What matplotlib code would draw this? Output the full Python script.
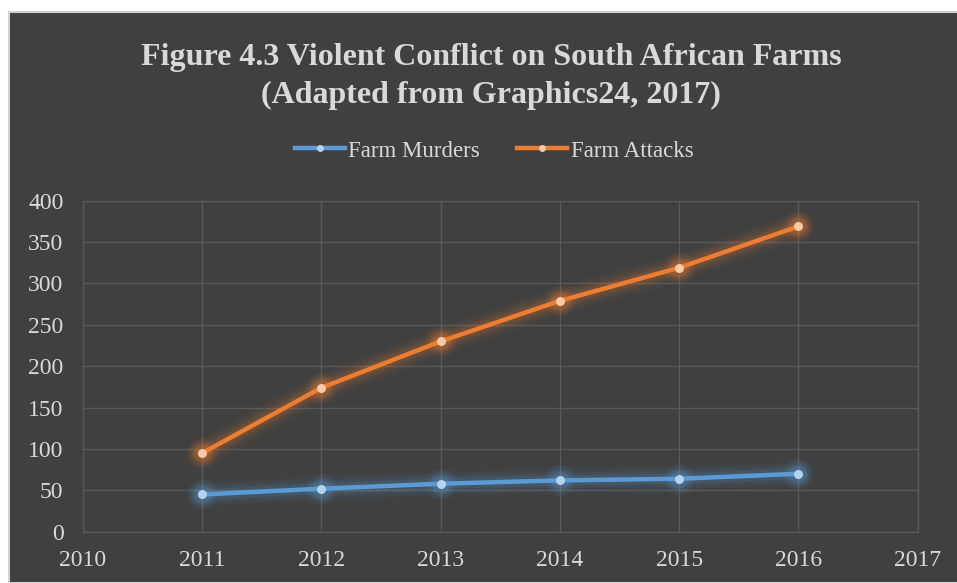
import matplotlib
matplotlib.use("Agg")
import matplotlib.pyplot as plt
from matplotlib.patches import Rectangle
from matplotlib.lines import Line2D

years = [2011, 2012, 2013, 2014, 2015, 2016]
farm_murders = [45, 52, 58, 62, 64, 70]
farm_attacks = [95, 174, 230, 279, 319, 369]
x_ticks = [2010, 2011, 2012, 2013, 2014, 2015, 2016, 2017]
y_ticks = [0, 50, 100, 150, 200, 250, 300, 350, 400]

BG = "#404040"
GRID = "#595959"
TEXT = "#d9d9d9"
BLUE = "#5b9bd5"
ORANGE = "#ed7d31"
BLUE_PT = "#b4d3f0"
ORANGE_PT = "#f9c9a8"
SERIF = ["Liberation Serif", "DejaVu Serif"]

W, H = 957, 583
fig = plt.figure(figsize=(W / 100, H / 100), dpi=100, facecolor="white")

# dark chart panel with a thin light frame
fig.patches.append(Rectangle((9 / W, 0), 1, 1 - 12 / H, transform=fig.transFigure,
                             facecolor=BG, edgecolor="#d0d0d0", linewidth=1.5,
                             zorder=-10))

ax = fig.add_axes([83 / W, 1 - 531.7 / H, (917.7 - 83) / W, (531.7 - 200.7) / H])
ax.set_facecolor(BG)
ax.set_xlim(2010, 2017)
ax.set_ylim(0, 400)
ax.set_xticks(x_ticks)
ax.set_yticks(y_ticks)
ax.grid(True, color=GRID, linewidth=1)
ax.set_axisbelow(True)
for s in ax.spines.values():
    s.set_color(GRID)
    s.set_linewidth(1)
ax.tick_params(length=0, colors=TEXT, labelsize=17)
ax.tick_params(axis="y", pad=14)
ax.tick_params(axis="x", pad=13)
for lab in ax.get_xticklabels() + ax.get_yticklabels():
    lab.set_family(SERIF)
    lab.set_color(TEXT)


def glow_line(xs, ys, color, pt_color):
    # soft halo drawn as stacked translucent strokes
    for lw, a in [(20, 0.035), (15, 0.05), (11, 0.08), (7.5, 0.12)]:
        ax.plot(xs, ys, color=color, linewidth=lw, alpha=a,
                solid_capstyle="round", solid_joinstyle="round", zorder=2)
    for ms, a in [(22, 0.08), (17, 0.12), (13, 0.18)]:
        ax.plot(xs, ys, linestyle="none", marker="o", markersize=ms,
                markerfacecolor=color, markeredgecolor="none", alpha=a, zorder=2)
    ax.plot(xs, ys, color=color, linewidth=3.2, zorder=3,
            solid_capstyle="round", solid_joinstyle="round")
    ax.plot(xs, ys, linestyle="none", marker="o", markersize=6.5,
            markerfacecolor=pt_color, markeredgecolor="none", zorder=4)


glow_line(years, farm_murders, BLUE, BLUE_PT)
glow_line(years, farm_attacks, ORANGE, ORANGE_PT)

fig.text(491 / W, 1 - 57 / H, "Figure 4.3 Violent Conflict on South African Farms",
         ha="center", va="center", fontsize=23, fontweight="bold",
         color=TEXT, family=SERIF)
fig.text(491 / W, 1 - 95 / H, "(Adapted from Graphics24, 2017)",
         ha="center", va="center", fontsize=23, fontweight="bold",
         color=TEXT, family=SERIF)

handles = [
    Line2D([], [], color=BLUE, linewidth=3.2, marker="o", markersize=5,
           markerfacecolor=BLUE_PT, markeredgecolor="none"),
    Line2D([], [], color=ORANGE, linewidth=3.2, marker="o", markersize=5,
           markerfacecolor=ORANGE_PT, markeredgecolor="none"),
]
leg = fig.legend(handles, ["Farm Murders", "Farm Attacks"], loc="center",
                 bbox_to_anchor=(494 / W, 1 - 151 / H), ncol=2, frameon=False,
                 prop={"family": SERIF, "size": 16.5}, handlelength=2.2,
                 handletextpad=0.15, columnspacing=1.6)
for t in leg.get_texts():
    t.set_color(TEXT)

fig.savefig("out.png", dpi=100, facecolor="white")
